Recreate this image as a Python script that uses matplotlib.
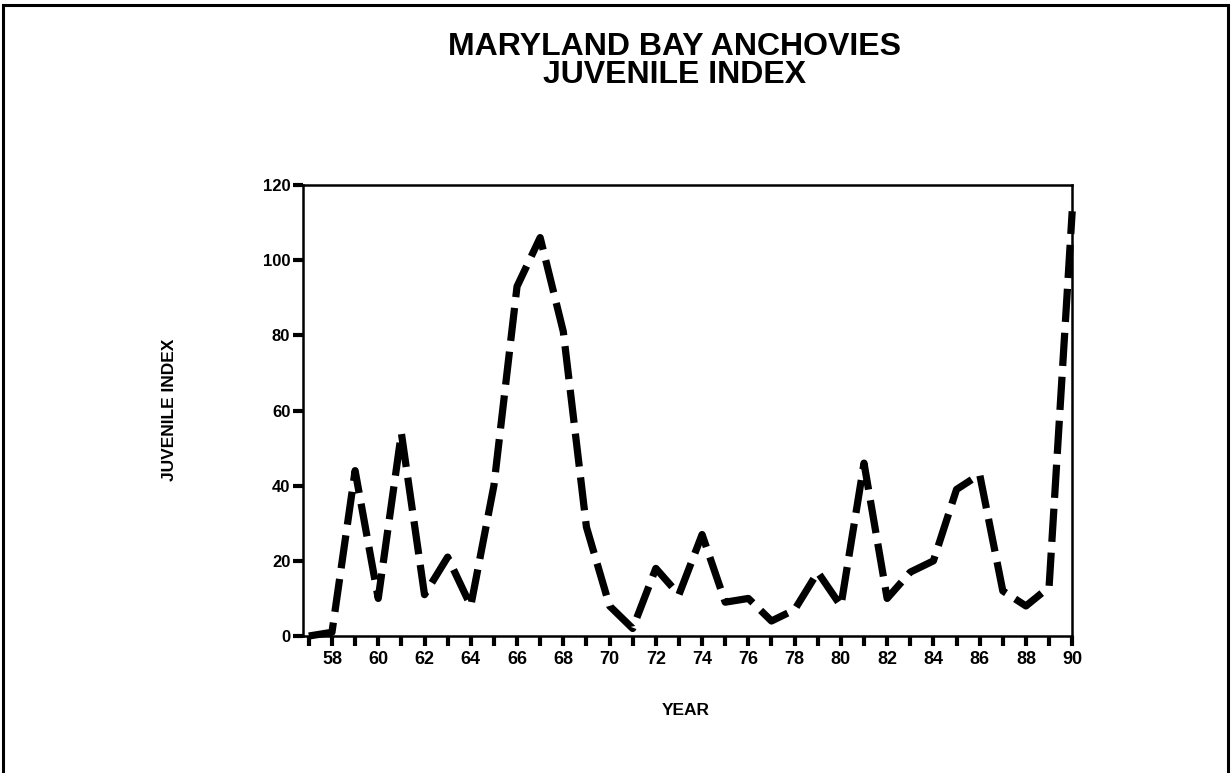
import matplotlib
matplotlib.use('Agg')

import matplotlib.pyplot as plt
from matplotlib.patches import Rectangle
import numpy as np

years = np.arange(57, 91)
index = np.array([0, 1, 44, 10, 54, 11, 21, 8, 40, 93, 106, 81, 29, 8, 2,
                  18, 11, 27, 9, 10, 4, 7, 17, 8, 46, 10, 17, 20, 39, 43,
                  12, 8, 13, 113])
xlabels = [str(y) for y in range(58, 91, 2)]
yticks = [0, 20, 40, 60, 80, 100, 120]

plt.rcParams['font.family'] = ['Liberation Sans', 'DejaVu Sans']

fig = plt.figure(figsize=(12.31, 7.73), dpi=100)
ax = fig.add_axes([0.246, 0.1772, 0.625, 0.5835])

ax.plot(years, index, color='black', linewidth=5.2, linestyle=(0, (4.6, 1.5)),
        dash_capstyle='butt', solid_joinstyle='miter', clip_on=False)

ax.set_xlim(56.74, 90)
ax.set_ylim(0, 120)
ax.set_xticks(years, minor=True)
ax.set_xticks(range(58, 91, 2))
ax.set_xticklabels(xlabels, fontsize=13, fontweight='bold')
ax.set_yticks(yticks)
ax.set_yticklabels([str(v) for v in yticks], fontsize=12, fontweight='bold')
ax.tick_params(axis='x', which='both', direction='out', length=7, width=3, pad=4)
ax.tick_params(axis='y', direction='out', length=7, width=3, pad=2)
for s in ax.spines.values():
    s.set_linewidth(1.8)

fig.text(0.548, 0.958, 'MARYLAND BAY ANCHOVIES\nJUVENILE INDEX', ha='center', va='top',
         fontsize=23, fontweight='bold', linespacing=0.88)
fig.text(0.138, 0.47, 'JUVENILE INDEX', rotation=90, ha='center', va='center',
         fontsize=12.5, fontweight='bold')
fig.text(0.557, 0.081, 'YEAR', ha='center', va='center', fontsize=12.5, fontweight='bold')

fig.patches.append(Rectangle((3 / 1231, -0.02), 1225 / 1231, 1.0135, transform=fig.transFigure,
                             fill=False, edgecolor='black', linewidth=2.2))

fig.savefig('out.png', dpi=100)
